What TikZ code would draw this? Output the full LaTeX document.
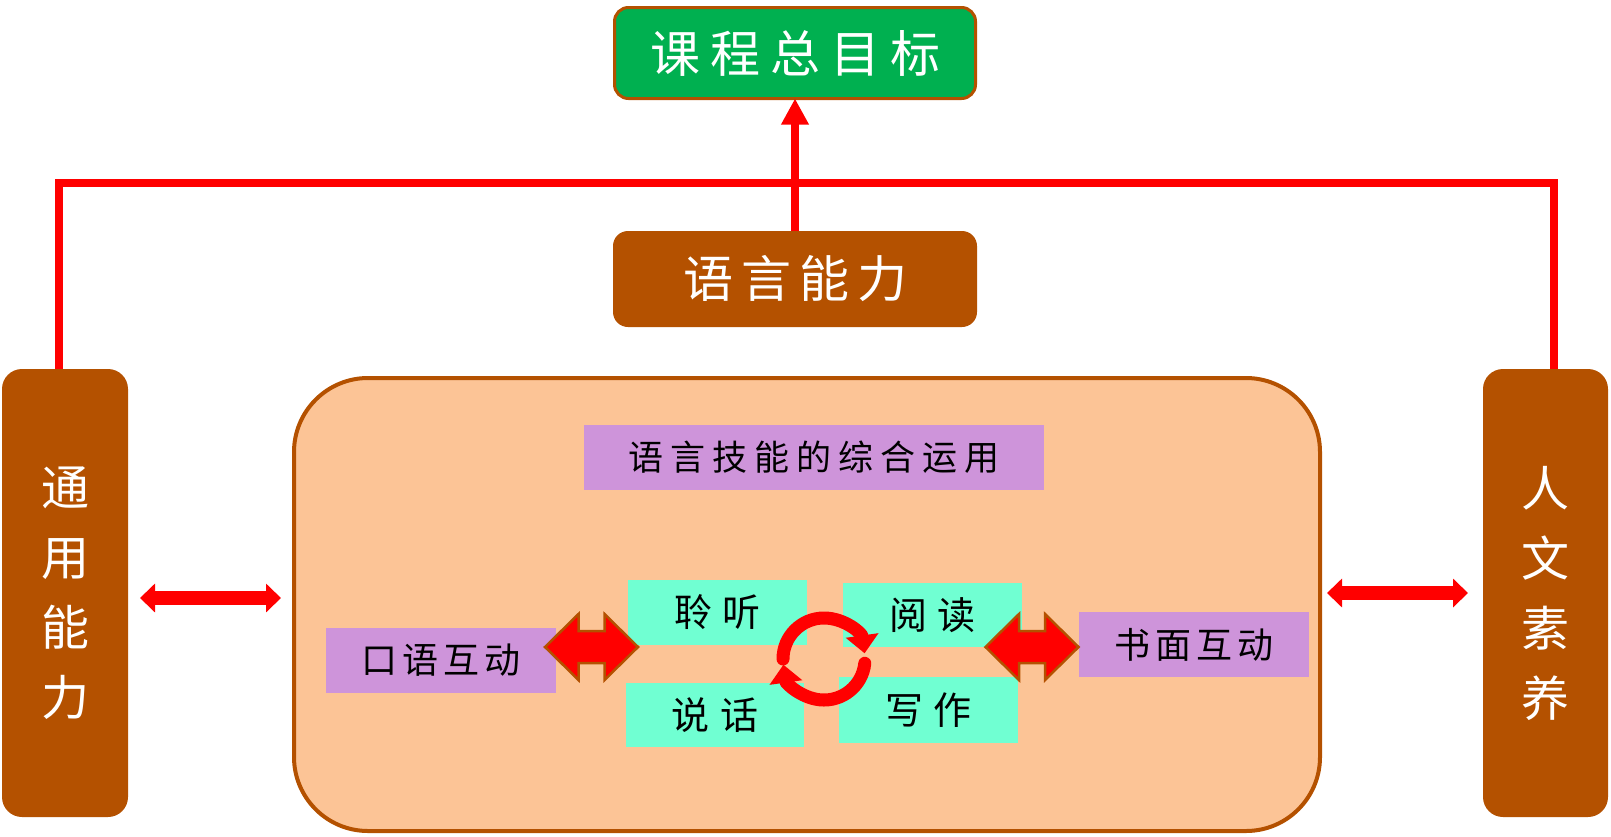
\documentclass[tikz,border=0pt]{standalone}
\usepackage{fontspec}
\newfontfamily\cjk{Noto Sans CJK SC}
\usetikzlibrary{arrows.meta}

\definecolor{goalgreen}{RGB}{0,176,80}
\definecolor{rust}{RGB}{180,81,0}
\definecolor{peach}{RGB}{252,196,150}
\definecolor{lilac}{RGB}{206,148,218}
\definecolor{aqua}{RGB}{112,255,210}
\definecolor{arrowred}{RGB}{255,0,0}

% set a run of characters with a fixed extra gap between them
\makeatletter
\newcommand\spread[2]{%
  \begingroup\def\spr@sep{}%
  \@tfor\spr@c:=#2\do{\spr@sep\spr@c\def\spr@sep{\hspace{#1}}}%
  \endgroup}
\makeatother

\begin{document}
\begin{tikzpicture}[x=1pt,y=-1pt,
  box/.style={inner sep=0pt, outer sep=0pt},
  brownbox/.style={box, fill=rust, text=white},
  lilacbox/.style={box, fill=lilac, text=black, minimum height=65pt},
  aquabox/.style={box, fill=aqua, text=black, minimum width=179pt, minimum height=65pt,
    font=\cjk\fontsize{38}{44}\selectfont},
  redline/.style={draw=arrowred, line width=8pt},
  dblarrow/.style={draw=arrowred, line width=14pt,
    {Triangle[width=28pt,length=15pt]}-{Triangle[width=28pt,length=15pt]}},
  cyclearc/.style={draw=arrowred, line width=13pt, line cap=round,
    -{Triangle[width=32pt,length=18pt]}},
  fatarrow/.pic={
    \filldraw[fill=arrowred, draw=rust, line width=2.5pt, line join=miter]
      (-46.5,0) -- (-13,-33) -- (-13,-16) -- (13,-16) -- (13,-33) -- (46.5,0)
      -- (13,33) -- (13,16) -- (-13,16) -- (-13,33) -- cycle;}
]
\useasboundingbox (0,0) rectangle (1611,836);

% top goal and language ability
\node[box, fill=goalgreen, draw=rust, line width=3pt, rounded corners=14pt,
  minimum width=361pt, minimum height=91pt, text=white,
  font=\cjk\fontsize{50}{60}\selectfont] (goal) at (795,53) {\spread{10pt}{课程总目标}};
\node[brownbox, rounded corners=15pt, minimum width=364pt, minimum height=96pt,
  font=\cjk\fontsize{50}{60}\selectfont] (lang) at (795,279) {\spread{8pt}{语言能力}};

% side pillars
\node[brownbox, rounded corners=20pt, minimum width=126pt, minimum height=448pt,
  align=center, font=\cjk\fontsize{48}{70}\selectfont] (gen) at (65,593) {通\\用\\能\\力};
\node[brownbox, rounded corners=20pt, minimum width=125pt, minimum height=448pt,
  align=center, font=\cjk\fontsize{48}{70}\selectfont] (hum) at (1545.5,593) {人\\文\\素\\养};

% central panel
\node[box, fill=peach, draw=rust, line width=4pt, rounded corners=74pt,
  minimum width=1026pt, minimum height=453pt] (big) at (807,604.5) {};

\node[lilacbox, minimum width=460pt, font=\cjk\fontsize{35}{42}\selectfont]
  (skill) at (814,457.5) {\spread{7pt}{语言技能的综合运用}};
\node[lilacbox, minimum width=230pt, font=\cjk\fontsize{36}{42}\selectfont]
  (oral) at (441,660.5) {\spread{5pt}{口语互动}};
\node[lilacbox, minimum width=230pt, font=\cjk\fontsize{36}{42}\selectfont]
  (written) at (1194,644.5) {\spread{5pt}{书面互动}};

\node[aquabox] (listen) at (717.5,612.5) {\spread{11pt}{聆听}};
\node[aquabox, minimum width=178pt, minimum height=64pt] (speak) at (715,715) {\spread{11pt}{说话}};
\node[aquabox, minimum height=64pt] (read) at (932.5,615) {\spread{11pt}{阅读}};
\node[aquabox, minimum height=66pt] (write) at (928.5,710) {\spread{11pt}{写作}};

% connectors to the goal
\coordinate (tl) at (59,183);
\coordinate (tr) at (1554,183);
\draw[redline, line join=miter] ([xshift=-6pt]gen.north) -- (tl) -- (tr) -- ([xshift=8.5pt]hum.north);
\draw[redline, -{Triangle[width=26pt,length=26pt]}] (lang.north) -- (goal.south);

% links between pillars and the panel
\draw[dblarrow, shorten <=12pt, shorten >=13pt] (gen.east |- 0,598) -- (big.west |- 0,598);
\draw[dblarrow, shorten <=7pt, shorten >=15pt] (big.east |- 0,593) -- (hum.west |- 0,593);

% interaction arrows
\pic at (591.5,647) {fatarrow};
\pic at (1032,647) {fatarrow};

% skill cycle
\coordinate (cyc) at (824,659);
\draw[cyclearc] ([shift={(-180:41)}]cyc) arc[start angle=-180, end angle=-8, radius=41];
\draw[cyclearc] ([shift={(6:41)}]cyc) arc[start angle=6, end angle=172, radius=41];
\end{tikzpicture}
\end{document}
